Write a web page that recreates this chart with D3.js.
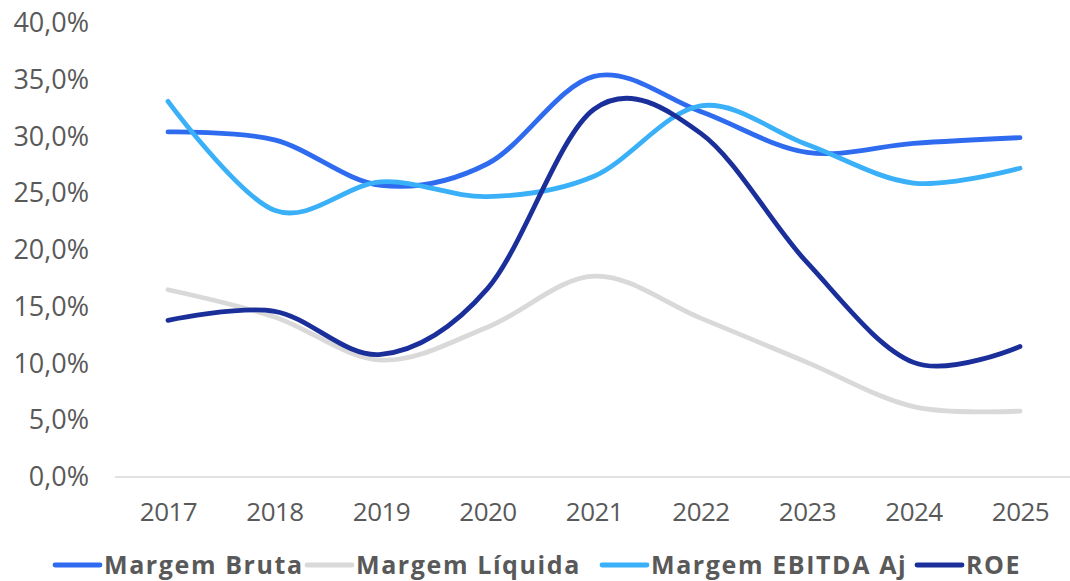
<!DOCTYPE html>
<html>
<head>
<meta charset="utf-8">
<script src="https://cdn.jsdelivr.net/npm/d3@7"></script>
<style>
  body { margin: 0; background: #fff; }
  svg text { font-family: "Open Sans", sans-serif; }
</style>
</head>
<body>
<svg id="chart" width="1070" height="581"></svg>
<script>
const years = ["2017", "2018", "2019", "2020", "2021", "2022", "2023", "2024", "2025"];
const margemBruta = [30.4, 29.7, 25.7, 27.6, 35.3, 32.2, 28.6, 29.4, 29.9];
const margemLiquida = [16.5, 14.1, 10.3, 13.2, 17.7, 14.0, 10.1, 6.2, 5.8];
const margemEbitda = [33.1, 23.5, 26.0, 24.7, 26.5, 32.7, 29.3, 25.9, 27.2];
const roe = [13.8, 14.6, 10.8, 16.6, 32.4, 30.3, 18.9, 10.1, 11.5];
const yTicks = [0, 5, 10, 15, 20, 25, 30, 35, 40];

const series = [
    {name: "Margem Bruta", values: margemBruta, color: "#2E6BEF"},
    {name: "Margem Líquida", values: margemLiquida, color: "#D9D9D9"},
    {name: "Margem EBITDA Aj", values: margemEbitda, color: "#3AB0F8"},
    {name: "ROE", values: roe, color: "#1B2F9A"}
];

const svg = d3.select("#chart");

// x is a point scale over the years, y in percent
let x = d3.scalePoint().domain(years).range([168, 1020]);
let y = d3.scaleLinear().domain([0, 40]).range([477, 23]);

// y axis labels, no line
let yAxis = d3.axisLeft(y).tickValues(yTicks).tickSize(0).tickPadding(0)
    .tickFormat(d => d.toFixed(1).replace(".", ",") + "%");
svg.append("g")
    .attr("transform", "translate(89,0)")
    .call(yAxis)
    .call(g => g.select(".domain").remove())
    .selectAll("text")
    .attr("fill", "#595959")
    .style("font-size", "27px");

// x axis: light line at 0 and year labels
let xAxis = d3.axisBottom(x).tickSize(0).tickPadding(26);
svg.append("g")
    .attr("transform", "translate(0," + y(0) + ")")
    .call(xAxis)
    .call(g => g.select(".domain").remove())
    .selectAll("text")
    .attr("fill", "#595959")
    .style("font-size", "26px")
    .style("letter-spacing", "-0.5px");

svg.append("line")
    .attr("x1", 115).attr("x2", 1073)
    .attr("y1", y(0)).attr("y2", y(0))
    .attr("stroke", "#D9D9D9")
    .attr("stroke-width", 1.5);

// smoothed lines like Excel
let line = d3.line()
    .x((d, i) => x(years[i]))
    .y(d => y(d))
    .curve(d3.curveCardinal.tension(0));

series.forEach(function(s) {
    svg.append("path")
        .datum(s.values)
        .attr("d", line)
        .attr("fill", "none")
        .attr("stroke", s.color)
        .attr("stroke-width", 4.8)
        .attr("stroke-linecap", "round");
});

// legend
let legendX = [55, 307, 602, 917];
let legend = svg.append("g").attr("transform", "translate(0,565)");
series.forEach(function(s, i) {
    let g = legend.append("g").attr("transform", "translate(" + legendX[i] + ",0)");
    g.append("line")
        .attr("x1", 0).attr("x2", 45)
        .attr("y1", 0).attr("y2", 0)
        .attr("stroke", s.color)
        .attr("stroke-width", 4.8)
        .attr("stroke-linecap", "round");
    g.append("text")
        .attr("x", 49)
        .attr("dy", "0.35em")
        .attr("fill", "#595959")
        .style("font-size", "25px")
        .style("font-weight", "bold")
        .style("letter-spacing", "1.6px")
        .text(s.name);
});
</script>
</body>
</html>
